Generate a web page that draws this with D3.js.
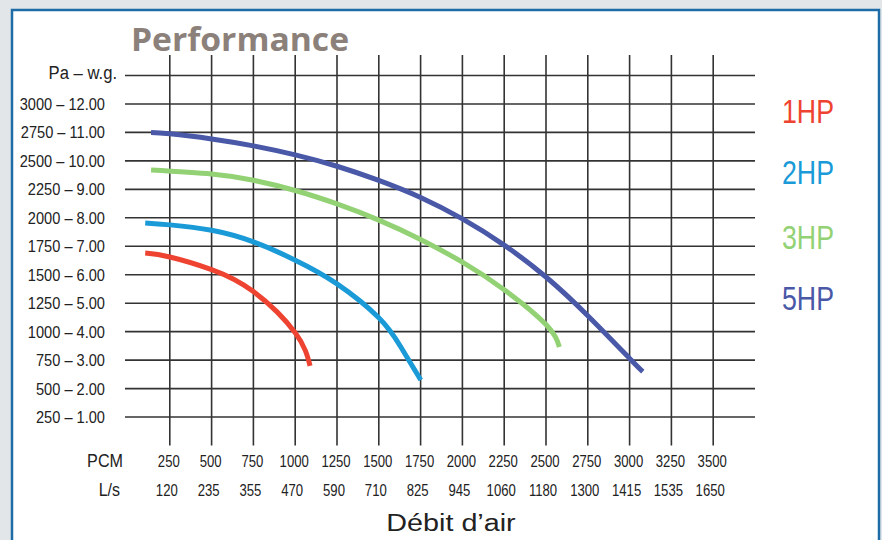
<!DOCTYPE html>
<html>
<head>
<meta charset="utf-8">
<script src="https://cdn.jsdelivr.net/npm/d3@7"></script>
<style>
  body { margin: 0; background: #e2e6e9; }
  svg { display: block; }
</style>
</head>
<body>
<div id="chart"></div>
<script>
// data
const pcmTicks = [250, 500, 750, 1000, 1250, 1500, 1750, 2000, 2250, 2500, 2750, 3000, 3250, 3500];
const lsTicks = [120, 235, 355, 470, 590, 710, 825, 945, 1060, 1180, 1300, 1415, 1535, 1650];
const paTicks = [250, 500, 750, 1000, 1250, 1500, 1750, 2000, 2250, 2500, 2750, 3000];
const wgTicks = ['1.00', '2.00', '3.00', '4.00', '5.00', '6.00', '7.00', '8.00', '9.00', '10.00', '11.00', '12.00'];

const seriesNames = ['1HP', '2HP', '3HP', '5HP'];
const seriesColors = ['#ee4330', '#1a9ad7', '#93d274', '#4a58a8'];

const pcm1HP = [103, 250, 500, 750, 1000, 1089];
const pa1HP = [1690, 1656, 1545, 1352, 990, 699];

const pcm2HP = [103, 250, 500, 750, 1000, 1250, 1500, 1630, 1751];
const pa2HP = [1955, 1938, 1890, 1788, 1628, 1420, 1122, 870, 576];

const pcm3HP = [138, 500, 750, 1000, 1250, 1500, 1750, 2000, 2250, 2500, 2580];
const pa3HP = [2420, 2385, 2330, 2240, 2122, 1980, 1810, 1610, 1368, 1062, 866];

const pcm5HP = [138, 250, 500, 750, 1000, 1250, 1500, 1750, 2000, 2250, 2500, 2750, 3000, 3079];
const pa5HP = [2749, 2738, 2693, 2632, 2553, 2453, 2328, 2178, 1990, 1760, 1480, 1140, 765, 649];

const seriesPcm = [pcm1HP, pcm2HP, pcm3HP, pcm5HP];
const seriesPa = [pa1HP, pa2HP, pa3HP, pa5HP];

const W = 882, H = 540;
const sans = "'Liberation Sans', Arial, sans-serif";

const svg = d3.select('#chart')
    .append('svg')
    .attr('width', W)
    .attr('height', H);

// frame
svg.append('rect')
    .attr('x', 0).attr('y', 0)
    .attr('width', W).attr('height', H)
    .attr('fill', '#e2e6e9');
svg.append('rect')
    .attr('x', 12).attr('y', 10)
    .attr('width', 867).attr('height', 560)
    .attr('fill', '#ffffff')
    .attr('stroke', '#1e6ca7')
    .attr('stroke-width', 2.5);

// scales
var x = d3.scaleLinear()
    .domain([0, 3750])
    .range([128, 755]);

var y = d3.scaleLinear()
    .domain([0, 3250])
    .range([445.5, 75.5]);

// condensed text: no narrow font installed, so squeeze horizontally
function label(sel, px, py, txt, size, sx, anchor, color) {
    return sel.append('text')
        .attr('transform', `translate(${px},${py}) scale(${sx},1)`)
        .attr('text-anchor', anchor)
        .style('font-family', sans)
        .style('font-size', size + 'px')
        .attr('fill', color || '#222')
        .text(txt);
}

const grid = svg.append('g').attr('class', 'grid');

// horizontal lines (incl. the Pa - w.g. line on top)
grid.selectAll('.hline')
    .data(paTicks.concat([3250]))
    .enter().append('line')
    .attr('class', 'hline')
    .attr('x1', x(-18))
    .attr('x2', x(3750))
    .attr('y1', d => y(d))
    .attr('y2', d => y(d))
    .attr('stroke', '#333')
    .attr('stroke-width', 1.6);

// vertical lines
grid.selectAll('.vline')
    .data(pcmTicks)
    .enter().append('line')
    .attr('class', 'vline')
    .attr('x1', d => x(d))
    .attr('x2', d => x(d))
    .attr('y1', y(3430))
    .attr('y2', y(0))
    .attr('stroke', '#333')
    .attr('stroke-width', 1.6);

// y labels
const yl = svg.append('g').attr('class', 'y labels');
paTicks.forEach(function(d, i) {
    label(yl, 105, y(d) + 6, `${d} – ${wgTicks[i]}`, 17, 0.86, 'end');
});
label(yl, 117, y(3250) + 3, 'Pa – w.g.', 18.5, 0.9, 'end');

// x labels
const xl = svg.append('g').attr('class', 'x labels');
pcmTicks.forEach(function(d, i) {
    label(xl, x(d) - 1, 467, d, 16, 0.82, 'middle');
    label(xl, x(d) - 3, 496, lsTicks[i], 16, 0.82, 'middle');
});
label(xl, 123, 467, 'PCM', 19, 0.85, 'end');
label(xl, 120, 496, 'L/s', 19, 0.84, 'end');

// axis title
label(svg, 451, 531, 'Débit d’air', 23, 1.25, 'middle');

// title
svg.append('text')
    .attr('x', 131).attr('y', 51)
    .attr('textLength', 218)
    .attr('lengthAdjust', 'spacingAndGlyphs')
    .style('font-family', "'Open Sans', sans-serif")
    .style('font-size', '33px')
    .style('font-weight', '700')
    .attr('fill', '#8c817a')
    .text('Performance');

// curves
const line = d3.line()
    .x(d => x(d[0]))
    .y(d => y(d[1]))
    .curve(d3.curveNatural);

seriesNames.forEach(function(name, i) {
    const pts = seriesPcm[i].map((p, j) => [p, seriesPa[i][j]]);
    svg.append('path')
        .datum(pts)
        .attr('fill', 'none')
        .attr('stroke', seriesColors[i])
        .attr('stroke-width', 5)
        .attr('d', line);
});

// legend
const legendY = [122.7, 184.3, 249.3, 310];
seriesNames.forEach(function(name, i) {
    label(svg, 782, legendY[i], name, 32.8, 0.815, 'start', seriesColors[i]);
});
</script>
</body>
</html>
